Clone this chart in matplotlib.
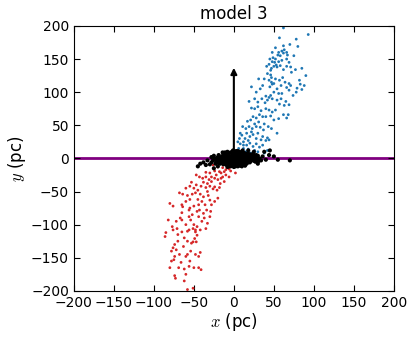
import numpy as np
import matplotlib
matplotlib.use('Agg')
import matplotlib.pyplot as plt

plt.rcParams['mathtext.fontset'] = 'cm'

# points (pc)
blue = [(62,197),(57,182),(93,187),(78,180),(80,169),(52,167),(60,162),(63,164),(66,160),(67,156),(62,159),(56,160),
        (55,156),(58,155),(48,146),(51,145),(53,141),(50,139),(54,138),(47,136),
        (60,148),(66,150),(69,145),(66,139),(71,138),(77,134),(72,130),
        (42,128),(46,126),(47,122),(44,118),(47,115),(52,120),(48,112),(50,113),(45,108),
        (31,120),(22,108),
        (57,118),(61,122),(64,115),(69,113),(59,110),(66,107),(71,110),(82,118),(83,112),(88,110),(79,106),(69,103),
        (40,94),(44,92),(42,88),(46,95),(48,90),(35,90),(39,84),
        (19,86),(54,88),(59,90),(65,86),(57,82),(63,80),(69,81),
        (22,76),(26,75),(30,78),(34,72),(40,75),(44,73),(48,70),(52,73),
        (24,63),(28,61),(32,66),(36,63),(40,63),(46,64),(50,58),(56,60),(62,66),(66,61),(68,66),
        (11,48),(15,45),(19,48),(23,45),(28,48),(33,47),(37,43),(43,48),(47,45),(54,38),
        (8,38),(10,35),(16,38),(20,33),(24,36),(30,38),(36,33),(42,31),(34,28),(28,30),(44,28),(40,27),
        (5,25),(8,22),(12,25),(16,20),(20,23),(24,18),(28,22),(32,17),(18,14),(12,15),(26,12),(36,20),
        (6,15),(3,12),(9,10),(15,10),(21,8),(30,10),(38,8),(42,12),
        (45,150),(49,152),(52,150),(44,142),(56,146),(58,140),(62,134),(46,133),(41,139),(38,120),
        (36,110),(54,105),(56,98),(50,100),(60,98),(74,95),(78,100),(85,104),(90,125),(85,136),
        (75,155),(28,100),(33,105),(26,90),(30,85),(62,170),(70,172),(48,160),
        (14,30),(18,27),(22,40),(26,52),(31,55),(38,52),(12,20),(7,30),(17,56),(21,58)]

red = [(-24,-19),(-18,-20),(-30,-22),(-35,-21),(-4,-19),(2,-22),(-10,-17),(-14,-14),(-8,-12),(-20,-13),(-26,-10),(-3,-10),
       (-47,-25),(-43,-28),(-39,-30),(-35,-28),(-31,-32),(-24,-30),(-20,-32),(-14,-28),(-10,-25),(-6,-28),
       (-53,-36),(-55,-42),(-47,-40),(-41,-42),(-35,-44),(-30,-42),(-26,-46),(-21,-48),(-24,-43),(-17,-38),(-12,-35),
       (-68,-52),(-64,-54),(-58,-56),(-52,-54),(-48,-52),(-42,-54),(-38,-58),(-32,-56),(-30,-63),(-24,-65),(-28,-70),(-20,-60),
       (-80,-68),(-76,-72),(-65,-70),(-64,-73),(-56,-78),(-55,-75),(-50,-72),(-46,-80),(-43,-78),(-38,-83),(-34,-78),(-29,-80),(-36,-70),
       (-65,-82),(-67,-90),(-82,-93),(-72,-95),(-65,-93),(-56,-88),(-54,-93),(-50,-100),(-46,-103),(-48,-108),(-42,-108),
       (-35,-106),(-33,-98),(-40,-95),(-60,-100),(-58,-110),
       (-85,-112),(-86,-118),(-76,-108),(-71,-106),(-65,-111),(-56,-108),(-51,-106),(-48,-111),(-46,-116),(-49,-121),
       (-51,-126),(-47,-126),(-53,-128),(-62,-120),
       (-74,-130),(-76,-135),(-72,-138),(-78,-140),(-68,-145),(-74,-148),(-75,-153),(-78,-155),(-60,-148),(-58,-145),
       (-54,-140),(-48,-145),(-44,-148),(-42,-142),(-70,-125),
       (-69,-165),(-62,-167),(-56,-163),(-50,-165),(-44,-165),(-41,-168),
       (-74,-177),(-73,-181),(-51,-196),(-58,-198),
       (-22,-25),(-16,-22),(-28,-35),(-33,-38),(-45,-48),(-40,-65),(-45,-62),(-55,-62),(-60,-65),(-52,-85),
       (-44,-88),(-37,-90),(-30,-88),(-70,-115),(-63,-133),(-58,-125),(-55,-155),(-66,-157),(-80,-165),
       (-60,-175),(-62,-185),(-77,-103),
       (-12,-20),(-6,-16),(-16,-30),(-28,-28),(-38,-36),(-50,-45),(-33,-50),(-18,-44),(-60,-45),(-44,-70)]

black = [(-14,-4),(-12,2),(-10,-7),(-9,5),(-8,-2),(-7,8),(-6,-9),(-5,3),(-4,-5),(-3,0),(-2,6),(-1,-3),(0,9),(0,-8),
         (1,2),(2,-5),(3,5),(4,-1),(5,-9),(5,7),(6,1),(7,-4),(8,4),(9,-7),(10,0),(11,6),(12,-3),(13,3),(14,-6),
         (15,1),(16,5),(17,-2),(18,-5),(19,3),(20,-1),(22,2),(24,-3),(26,1),(28,-2),(30,4),
         (-16,0),(-15,-6),(-13,6),(-11,-2),(-10,3),(-9,-10),(-8,10),(-7,-5),(-6,4),(-5,-1),(-4,9),(-3,-7),(-2,2),
         (-1,-10),(0,4),(1,-1),(2,8),(3,-3),(4,3),(5,-5),(6,-2),(7,6),(8,-8),(9,2),(10,-4),(11,-10),(12,8),(13,-1),
         (14,3),(15,-4),(16,-8),(17,2),(18,7),(20,-6),(21,4),(23,-1),(25,5),(27,-5),(32,0),(34,-3),
         (-18,-3),(-20,2),(-22,-5),(-19,5),(-24,0),(-17,-8),(-21,-1),(-26,-3),(-13,-9),(-11,9),(-1,12),(3,11),
         (7,10),(11,12),(-4,-12),(2,-12),(8,-11),(-8,-13),
         (-12,-6),(-10,6),(-7,1),(-4,-9),(-2,-6),(1,6),(3,-8),(6,5),(9,-2),(11,3),(13,-7),(15,7),(17,-6),(19,-3),
         (21,-4),(23,3),(26,-4),(29,1),(31,-4),(-15,3),(-17,-5),(-19,-7),(-23,-8),(-14,9),(-6,-12),(0,-13),(5,-12),
         (10,-12),(14,-11),(-2,10),(5,11),(9,8),(13,8),(20,6),(24,7),(28,5),(-28,-6),(-25,4),
         (-33,-3),(-38,-6),(-42,-8),(-30,-9),(-35,-10),(-28,2),(36,3),(40,-2),(44,5),(50,3),(55,-2),(70,-3),
         (45,12),(38,10),(-45,-12),(-20,-12),(-25,-15),(30,-8),(18,12),(25,10)]

arrow_len = 141

bx, by = np.array(blue).T
rx, ry = np.array(red).T
kx, ky = np.array(black).T

fig = plt.figure(figsize=(4.15, 3.41), dpi=100)
ax = fig.add_axes([0.178, 0.147, 0.771, 0.777])

ax.axhline(0, color='purple', lw=2, zorder=1)
ax.scatter(bx, by, s=4, c='#1f77b4', edgecolors='none', zorder=2)
ax.scatter(rx, ry, s=4, c='#d62728', edgecolors='none', zorder=2)
ax.scatter(kx, ky, s=9, c='k', edgecolors='none', zorder=3)
ax.annotate('', xy=(0, arrow_len), xytext=(0, 0),
            arrowprops=dict(arrowstyle='-|>', color='k', lw=1.5, mutation_scale=9), zorder=4)

ax.set_xlim(-200, 200)
ax.set_ylim(-200, 200)
ax.set_xticks(np.arange(-200, 201, 50))
ax.set_yticks(np.arange(-200, 201, 50))
ax.tick_params(direction='in', top=True, right=True, labelsize=10, length=4)
ax.set_xlabel('$x$ (pc)', fontsize=12, labelpad=1)
ax.set_ylabel('$y$ (pc)', fontsize=12, labelpad=2)
ax.set_title('model 3', fontsize=12, pad=5)

fig.savefig('out.png', dpi=100)
